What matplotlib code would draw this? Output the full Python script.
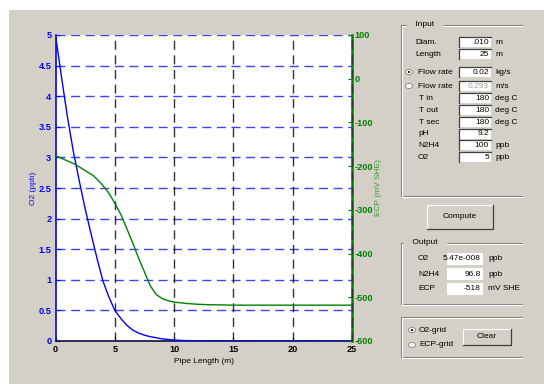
import matplotlib
matplotlib.use('Agg')
import matplotlib.pyplot as plt
from matplotlib.patches import Rectangle, Circle
from matplotlib.lines import Line2D

plt.rcParams['axes.unicode_minus'] = False

# 配管長さ方向の O2 濃度 (ppb)
o2_x = [0, 0.5, 1.0, 1.5, 2.0, 2.5, 3.0, 3.5, 4.0, 4.5, 5.0, 5.5, 6.0, 6.5,
        7.0, 7.5, 8.0, 9.0, 10, 11, 12, 15, 20, 25]
o2_ppb = [5.0, 4.32, 3.67, 3.1, 2.62, 2.16, 1.75, 1.35, 0.98, 0.72, 0.50, 0.37,
          0.26, 0.18, 0.13, 0.095, 0.07, 0.035, 0.015, 0.007, 0.003, 0, 0, 0]

# 配管長さ方向の ECP (mV SHE)
ecp_x = [0, 0.5, 1.0, 1.6, 2.5, 3.2, 3.8, 4.4, 4.9, 5.5, 6.0, 6.5, 7.0, 7.5,
         8.0, 8.5, 9.0, 9.5, 10, 11, 12, 13, 15, 20, 25]
ecp_mv = [-176, -182, -188, -195, -210, -222, -238, -258, -280, -310, -342,
          -375, -410, -442, -474, -494, -503, -508, -511, -514, -516, -517,
          -518, -518, -518]

x_ticks = [0, 5, 10, 15, 20, 25]
o2_ticks = [0, 0.5, 1, 1.5, 2, 2.5, 3, 3.5, 4, 4.5, 5]
o2_tick_labels = ['0', '0.5', '1', '1.5', '2', '2.5', '3', '3.5', '4', '4.5', '5']
ecp_ticks = [-600, -500, -400, -300, -200, -100, 0, 100]

# 入力パネル (ラベル, 値, 単位)
input_labels = ['Diam.', 'Length', 'Flow rate', 'Flow rate', 'T in', 'T out',
                'T sec', 'pH', 'N2H4', 'O2']
input_values = ['.010', '25', '0.02', '0.293', '180', '180', '180', '9.2',
                '100', '5']
input_units = ['m', 'm', 'kg/s', 'm/s', 'deg C', 'deg C', 'deg C', '',
               'ppb', 'ppb']

# 出力パネル
output_labels = ['O2', 'N2H4', 'ECP']
output_values = ['5.47e-008', '96.8', '-518']
output_units = ['ppb', 'ppb', 'mV SHE']

W, H = 544, 384
GRAY = '#D4D0C8'
BLUE = '#0000FF'
GREEN = '#008000'
FONT = 'Liberation Sans'
UI_SIZE = 6
TICK_SIZE = 6.6


def fx(px):
    return px / W


def fy(py):
    return 1 - py / H


fig = plt.figure(figsize=(W / 100, H / 100), dpi=100)
fig.patch.set_facecolor('white')

# ウィンドウ背景
fig.patches.append(Rectangle((fx(9), 0), 1 - fx(9), fy(10), transform=fig.transFigure,
                             facecolor=GRAY, edgecolor='none', zorder=-10))

# グラフ本体
ax = fig.add_axes([fx(55.5), fy(341), fx(352) - fx(55.5), fy(35) - fy(341)])
ax.set_facecolor('white')
ax.plot(o2_x, o2_ppb, color=BLUE, lw=1.0, zorder=5)
ax.set_xlim(0, 25)
ax.set_ylim(0, 5)
ax.set_xticks(x_ticks)
ax.set_yticks(o2_ticks)
ax.set_yticklabels(o2_tick_labels)

dash = (0, (6.5, 4))
for v in o2_ticks:
    ax.axhline(v, color=BLUE, lw=1.0, ls=dash, alpha=0.75, zorder=1)
for v in x_ticks[1:]:
    ax.axvline(v, color='black', lw=1.0, ls=dash, alpha=0.8, zorder=1)

ax.spines['top'].set_visible(False)
ax.spines['right'].set_visible(False)
ax.spines['left'].set_color(BLUE)
ax.spines['left'].set_linewidth(1.2)
ax.spines['bottom'].set_color('#101040')
ax.spines['bottom'].set_linewidth(1.2)
ax.tick_params(axis='y', direction='in', colors=BLUE, labelsize=TICK_SIZE, length=3, pad=3)
ax.tick_params(axis='x', direction='in', colors='black', labelsize=TICK_SIZE, length=3, pad=3)
for t in ax.get_yticklabels() + ax.get_xticklabels():
    t.set_fontweight('bold')
    t.set_family(FONT)
ax.set_ylabel('O2 (ppb)', color=BLUE, fontsize=6, family=FONT, labelpad=1)
ax.set_xlabel('Pipe Length (m)', color='black', fontsize=6, family=FONT, labelpad=3)

ax2 = ax.twinx()
ax2.plot(ecp_x, ecp_mv, color=GREEN, lw=1.0, zorder=5)
ax2.set_ylim(-600, 100)
ax2.set_yticks(ecp_ticks)
ax2.spines['top'].set_visible(False)
ax2.spines['left'].set_visible(False)
ax2.spines['bottom'].set_visible(False)
ax2.spines['right'].set_color(GREEN)
ax2.spines['right'].set_linewidth(1.8)
ax2.axvline(25, color='#204020', lw=1.0, ls=dash, zorder=6, clip_on=False)
ax2.tick_params(axis='y', direction='in', colors=GREEN, labelsize=TICK_SIZE, length=3, pad=2)
for t in ax2.get_yticklabels():
    t.set_fontweight('bold')
    t.set_family(FONT)
ax2.set_ylabel('ECP (mV SHE)', color='#3A9A3A', fontsize=6, family=FONT, labelpad=1)


def frame_box(x0, y0, x1, y1, title=None, tx=None):
    # 溝付きのグループボックス
    for off, col in ((0, '#808080'), (1, 'white')):
        fig.lines.append(Line2D([fx(x0 + off), fx(x0 + off), fx(x1)],
                                [fy(y0 + off), fy(y1 + off), fy(y1 + off)],
                                transform=fig.transFigure, color=col, lw=0.8))
        fig.lines.append(Line2D([fx(x0 + off), fx(x1)], [fy(y0 + off), fy(y0 + off)],
                                transform=fig.transFigure, color=col, lw=0.8))
    if title:
        fig.text(fx(tx), fy(y0), ' ' + title + ' ', fontsize=UI_SIZE, family=FONT,
                 va='center', ha='left', backgroundcolor=GRAY)


def edit_box(x0, y0, x1, y1, text, color='black', sunken=True):
    fig.patches.append(Rectangle((fx(x0), fy(y1)), fx(x1) - fx(x0), fy(y0) - fy(y1),
                                 transform=fig.transFigure, facecolor='white',
                                 edgecolor='none'))
    if sunken:
        fig.lines.append(Line2D([fx(x0), fx(x0), fx(x1)], [fy(y1), fy(y0), fy(y0)],
                                transform=fig.transFigure, color='#404040', lw=0.9))
    fig.text(fx(x1 - 2), fy((y0 + y1) / 2), text, fontsize=UI_SIZE, family=FONT,
             color=color, ha='right', va='center')


def button(x0, y0, x1, y1, label):
    fig.patches.append(Rectangle((fx(x0), fy(y1)), fx(x1) - fx(x0), fy(y0) - fy(y1),
                                 transform=fig.transFigure, facecolor=GRAY,
                                 edgecolor='none'))
    fig.lines.append(Line2D([fx(x0), fx(x0), fx(x1)], [fy(y1), fy(y0), fy(y0)],
                            transform=fig.transFigure, color='white', lw=0.8))
    fig.lines.append(Line2D([fx(x0), fx(x1), fx(x1)], [fy(y1), fy(y1), fy(y0)],
                            transform=fig.transFigure, color='#404040', lw=0.9))
    fig.text(fx((x0 + x1) / 2), fy((y0 + y1) / 2), label, fontsize=UI_SIZE, family=FONT,
             ha='center', va='center')


def radio(cx, cy, checked):
    fig.patches.append(Circle((fx(cx), fy(cy)), 3.5 / W, transform=fig.transFigure,
                              facecolor='white', edgecolor='#808080', lw=0.6))
    if checked:
        fig.patches.append(Circle((fx(cx), fy(cy)), 1.3 / W, transform=fig.transFigure,
                                  facecolor='black', edgecolor='none'))


# Input グループ
frame_box(401, 25, 522, 196, 'Input', 413)
row_y = [42, 54, 72, 86, 98, 110, 122, 134, 145, 157]
label_x = [415, 415, 418, 418, 419, 419, 419, 418, 418, 418]
for i, (lab, val, unit) in enumerate(zip(input_labels, input_values, input_units)):
    y = row_y[i]
    fig.text(fx(label_x[i]), fy(y), lab, fontsize=UI_SIZE, family=FONT, va='center')
    col = '#A0A0A0' if i == 3 else 'black'
    edit_box(459, y - 5, 491, y + 5, val, color=col)
    if unit:
        fig.text(fx(495), fy(y), unit, fontsize=UI_SIZE, family=FONT, va='center')
radio(409, 72, True)
radio(409, 86, False)

# Compute ボタン
button(427, 205, 493, 229, 'Compute')

# Output グループ
frame_box(401, 243, 522, 304, 'Output', 410)
out_y = [259, 274, 289]
for lab, val, unit, y in zip(output_labels, output_values, output_units, out_y):
    fig.text(fx(418), fy(y), lab, fontsize=UI_SIZE, family=FONT, va='center')
    edit_box(447, y - 6, 483, y + 6, val, sunken=False)
    fig.text(fx(488), fy(y), unit, fontsize=UI_SIZE, family=FONT, va='center')

# グリッド切替
frame_box(401, 317, 522, 357)
radio(412, 330, True)
radio(412, 345, False)
fig.text(fx(419), fy(330), 'O2-grid', fontsize=UI_SIZE, family=FONT, va='center')
fig.text(fx(419), fy(345), 'ECP-grid', fontsize=UI_SIZE, family=FONT, va='center')
button(463, 329, 511, 345, 'Clear')

fig.savefig('out.png', dpi=100, facecolor=fig.get_facecolor())
